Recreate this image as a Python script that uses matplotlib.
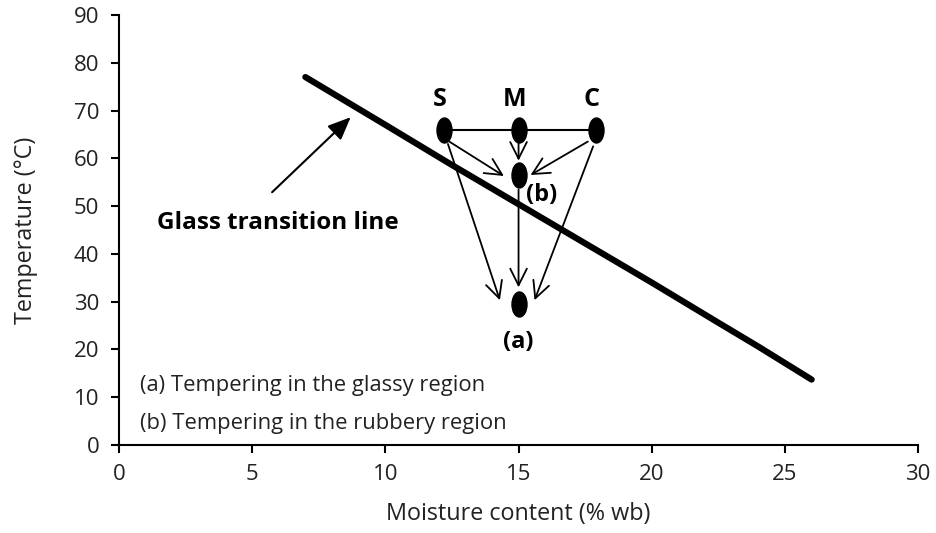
import matplotlib
matplotlib.use("Agg")
import matplotlib.pyplot as plt
from matplotlib.markers import MarkerStyle
from matplotlib.transforms import Affine2D

plt.rcParams['font.family'] = ['Open Sans', 'DejaVu Sans']

# glass transition line (moisture % wb, temperature C)
glass_x = [7, 10, 12.5, 15, 17.5, 20, 22.5, 24, 26]
glass_y = [77, 67, 58.6, 50.4, 42.2, 34, 25.6, 20.6, 13.7]

# drying conditions S, M, C and the tempering points
cond_names = ['S', 'M', 'C']
cond_x = [12.2, 15, 17.9]
cond_y = [66, 66, 66]
temper_b = (15, 56.5)
temper_a = (15, 29.5)

fig = plt.figure(figsize=(9.36, 5.33), dpi=100)
ax = fig.add_axes([0.127, 0.165, 0.854, 0.807])

ax.plot(glass_x, glass_y, color='black', lw=4.5, solid_capstyle='round', zorder=2)

# line joining the drying conditions
ax.plot(cond_x, cond_y, color='black', lw=1.5, zorder=3)

ell = MarkerStyle('o', transform=Affine2D().scale(0.6, 1.0))
ax.plot(cond_x, cond_y, ls='none', marker=ell, ms=18, color='black', zorder=4)
ax.plot([temper_b[0], temper_a[0]], [temper_b[1], temper_a[1]], ls='none',
        marker=ell, ms=18, color='black', zorder=4)

for name, x, y in zip(cond_names, cond_x, cond_y):
    ax.text(x - 0.15, y + 6.2, name, ha='center', va='center',
            fontsize=18, fontweight='bold')

arrow = dict(arrowstyle='->,head_length=0.6,head_width=0.3', color='black',
             lw=1.3, mutation_scale=20, shrinkA=0, shrinkB=0)

# arrows into (b)
ax.annotate('', xy=(14.45, 56.3), xytext=(12.4, 63.5), arrowprops=arrow)
ax.annotate('', xy=(15, 59.5), xytext=(15, 63.5), arrowprops=arrow)
ax.annotate('', xy=(15.45, 56.5), xytext=(17.6, 63.5), arrowprops=arrow)

# arrows into (a)
ax.annotate('', xy=(14.3, 30.3), xytext=(12.35, 63.0), arrowprops=arrow)
ax.annotate('', xy=(15, 33.0), xytext=(15, 53.5), arrowprops=arrow)
ax.annotate('', xy=(15.6, 30.3), xytext=(17.8, 62.5), arrowprops=arrow)

ax.text(15.85, 52.3, '(b)', ha='center', va='center', fontsize=17, fontweight='bold')
ax.text(15.0, 21.5, '(a)', ha='center', va='center', fontsize=17, fontweight='bold')

ax.text(5.95, 46.4, 'Glass transition line', ha='center', va='center',
        fontsize=17.5, fontweight='bold')
ax.annotate('', xy=(8.7, 68.6), xytext=(5.75, 52.9),
            arrowprops=dict(arrowstyle='-|>,head_length=0.7,head_width=0.3',
                            color='black', lw=1.5, mutation_scale=20,
                            shrinkA=0, shrinkB=0))

ax.text(0.8, 12.5, '(a) Tempering in the glassy region', ha='left', va='center',
        fontsize=15.8, color='#222222')
ax.text(0.8, 4.6, '(b) Tempering in the rubbery region', ha='left', va='center',
        fontsize=15.8, color='#222222')

ax.set_xlim(0, 30)
ax.set_ylim(0, 90)
ax.set_xticks(range(0, 31, 5))
ax.set_yticks(range(0, 91, 10))
for side in ['top', 'right']:
    ax.spines[side].set_visible(False)
for side in ['left', 'bottom']:
    ax.spines[side].set_linewidth(1.5)
ax.tick_params(direction='out', length=6, width=1.5, labelsize=16,
               labelcolor='#222222', pad=8)

ax.set_xlabel('Moisture content (% wb)', fontsize=16.8, color='#222222', labelpad=12)
ax.set_ylabel('Temperature (°C)', fontsize=16.8, color='#222222', labelpad=26)

fig.savefig('out.png', dpi=100)
